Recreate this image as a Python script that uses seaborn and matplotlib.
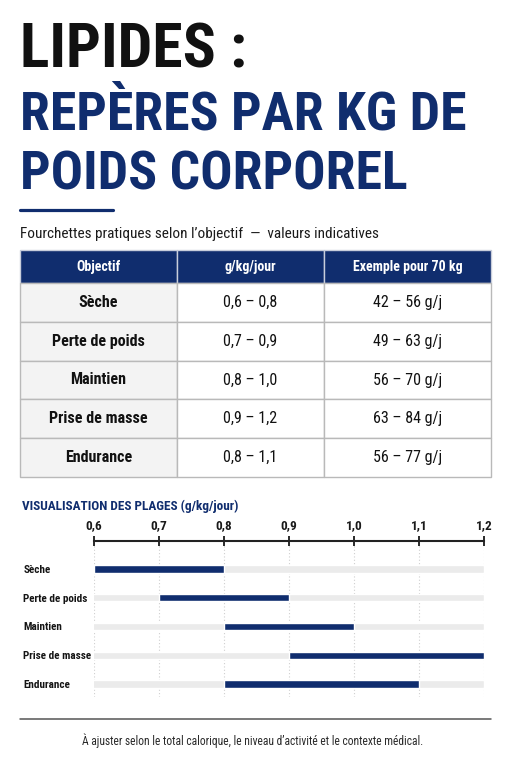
import matplotlib
matplotlib.use("Agg")
import matplotlib.pyplot as plt
from matplotlib import font_manager as fm
import seaborn as sns
import pandas as pd

# ==============================================================================
# DONNEES
# ==============================================================================
OBJECTIFS = ["Sèche", "Perte de poids", "Maintien", "Prise de masse", "Endurance"]
PLAGE_BAS = [0.6, 0.7, 0.8, 0.9, 0.8]
PLAGE_HAUT = [0.8, 0.9, 1.0, 1.2, 1.1]
PLAGE_TXT = ["0,6 – 0,8", "0,7 – 0,9", "0,8 – 1,0", "0,9 – 1,2", "0,8 – 1,1"]
EXEMPLE_70 = ["42 – 56 g/j", "49 – 63 g/j", "56 – 70 g/j", "63 – 84 g/j", "56 – 77 g/j"]
COLONNES = ["Objectif", "g/kg/jour", "Exemple pour 70 kg"]
TICKS = [0.6, 0.7, 0.8, 0.9, 1.0, 1.1, 1.2]

NAVY = "#102d6e"
TRACK = "#ebebeb"
W, H = 511, 768

sns.set_theme(style="white")

noms = {f.name for f in fm.fontManager.ttflist}
COND = next((n for n in ["Roboto Condensed", "Liberation Sans Narrow", "Open Sans Condensed"] if n in noms), "DejaVu Sans")
plt.rcParams["font.family"] = [COND, "DejaVu Sans"]
plt.rcParams["font.stretch"] = "condensed"


def fx(px):
    return px / W


def fy(py):
    return 1 - py / H


fig = plt.figure(figsize=(W / 100, H / 100), dpi=100)
fig.patch.set_facecolor("white")
rend = fig.canvas.get_renderer()


def ajuste(t, largeur_px, taille_max):
    w = t.get_window_extent(rend).width
    t.set_fontsize(min(taille_max, t.get_fontsize() * largeur_px / w))
    return t.get_fontsize()


# --- titre ---
t1 = fig.text(fx(20), fy(68), "LIPIDES :", color="#111111", fontsize=40,
              fontweight="bold", va="baseline")
ajuste(t1, 202 * 1.12, 53)
t2 = fig.text(fx(20), fy(130), "REPÈRES PAR KG DE", color=NAVY, fontsize=40,
              fontweight="bold", va="baseline")
s2 = ajuste(t2, 397 * 1.12, 47)
fig.text(fx(20), fy(190), "POIDS CORPOREL", color=NAVY, fontsize=s2,
         fontweight="bold", va="baseline")

fig.add_artist(plt.Line2D([fx(20), fx(113)], [fy(209.5), fy(209.5)], color=NAVY, lw=2.3))

st = fig.text(fx(20), fy(238), "Fourchettes pratiques selon l\u2019objectif  \u2014  valeurs indicatives",
              color="#1a1a1a", fontsize=10, va="baseline")
ajuste(st, 361, 11)

# --- tableau ---
ax_t = fig.add_axes([fx(20), fy(477), fx(491) - fx(20), (477 - 250) / H])
ax_t.axis("off")
lignes = [[o, p, e] for o, p, e in zip(OBJECTIFS, PLAGE_TXT, EXEMPLE_70)]
tbl = ax_t.table(cellText=lignes, colLabels=COLONNES, cellLoc="center",
                 colWidths=[157 / 471, 147 / 471, 167 / 471], bbox=[0, 0, 1, 1])
tbl.auto_set_font_size(False)
for (r, c), cell in tbl.get_celld().items():
    cell.set_linewidth(1.0)
    txt = cell.get_text()
    if r == 0:
        cell.set_height(33 / 227)
        cell.set_facecolor(NAVY)
        cell.set_edgecolor("#c8cddb")
        txt.set_color("white")
        txt.set_fontweight("bold")
        txt.set_fontsize(10)
    else:
        cell.set_height(38.8 / 227)
        cell.set_edgecolor("#b9b9b9")
        cell.set_facecolor("#f3f3f3" if c == 0 else "white")
        txt.set_color("#111111")
        txt.set_fontsize(11.5)
        txt.set_fontweight("bold" if c == 0 else "normal")

# --- visualisation ---
fig.text(fx(22), fy(510), "VISUALISATION DES PLAGES (g/kg/jour)", color=NAVY,
         fontsize=9.5, fontweight="bold", va="baseline")

ax = fig.add_axes([fx(94), fy(697), fx(484) - fx(94), (697 - 541) / H])
df = pd.DataFrame({"Objectif": OBJECTIFS, "bas": PLAGE_BAS, "haut": PLAGE_HAUT,
                   "fin": [TICKS[-1]] * len(OBJECTIFS)})
# piste grise, plage bleue, puis masque gris sous la borne basse
sns.barplot(data=df, x="fin", y="Objectif", color=TRACK, width=0.25, saturation=1, ax=ax)
sns.barplot(data=df, x="haut", y="Objectif", color=NAVY, width=0.25, saturation=1, ax=ax)
sns.barplot(data=df, x="bas", y="Objectif", color=TRACK, width=0.25, saturation=1, ax=ax)

ax.set_xlim(TICKS[0], TICKS[-1])
ax.set_ylim(4.45, -0.97)
ax.set_xlabel("")
ax.set_ylabel("")
ax.xaxis.tick_top()
ax.set_xticks(TICKS)
ax.set_xticklabels([f"{t:.1f}".replace(".", ",") for t in TICKS], fontweight="bold")
ax.tick_params(axis="x", direction="inout", length=7, width=1.3, pad=3,
               labelsize=9.5, colors="#1a1a1a")
ax.tick_params(axis="y", length=0, pad=51, labelsize=8)
for lab in ax.get_yticklabels():
    lab.set_ha("left")
    lab.set_fontweight("bold")
    lab.set_color("#151515")
ax.grid(axis="x", linestyle=(0, (1, 2)), color="#cfcfcf", lw=0.8)
ax.grid(axis="y", visible=False)
ax.set_axisbelow(True)
for s in ["left", "right", "bottom"]:
    ax.spines[s].set_visible(False)
ax.spines["top"].set_color("#222222")
ax.spines["top"].set_linewidth(1.5)
ax.patch.set_alpha(0)

# --- pied ---
fig.add_artist(plt.Line2D([fx(20), fx(491)], [fy(719), fy(719)], color="#555555", lw=1.1))
pied = fig.text(fx(253), fy(745), "À ajuster selon le total calorique, le niveau d\u2019activité et le contexte médical.",
                color="#2a2a2a", fontsize=8.5, ha="center", va="baseline")
ajuste(pied, 342, 9)

fig.savefig("out.png", dpi=100)
